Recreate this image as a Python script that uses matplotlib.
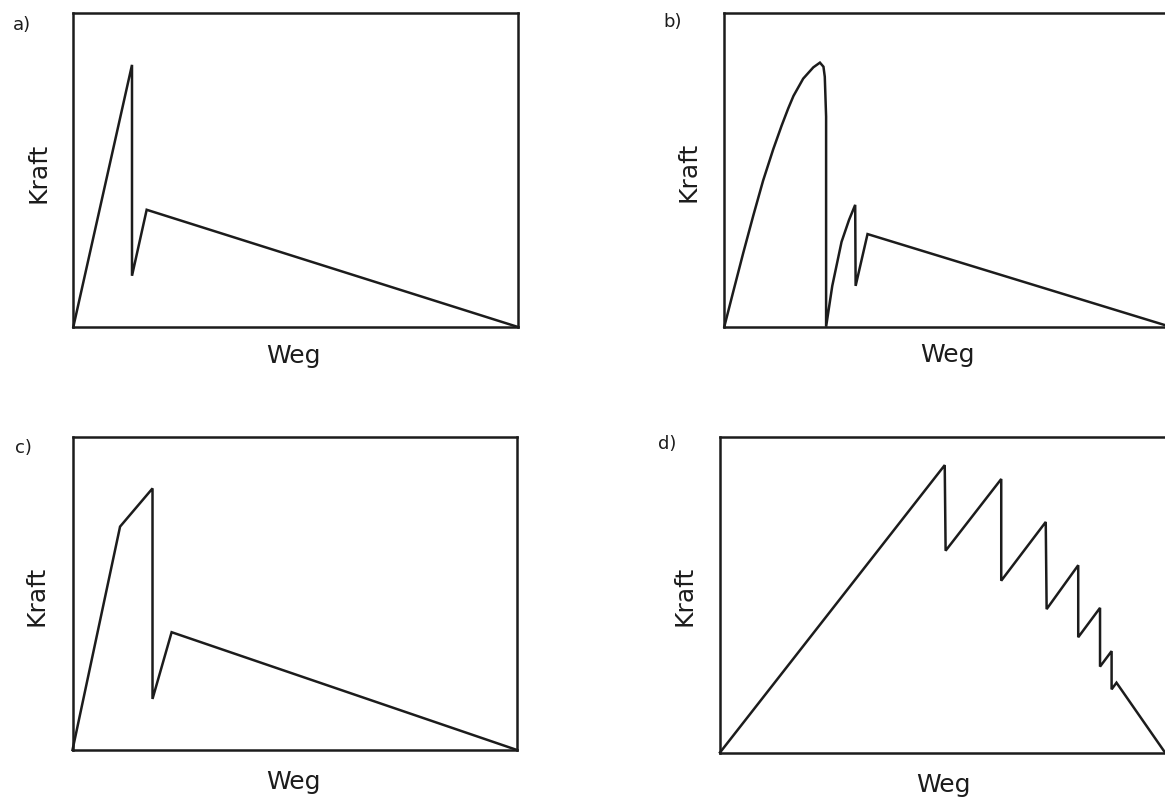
import matplotlib
matplotlib.use("Agg")
import matplotlib.pyplot as plt

# Kraft-Weg curves, both axes normalised to the visible box (0..1)
weg_a = [0.0, 0.132, 0.132, 0.165, 1.0]
kraft_a = [0.0, 0.834, 0.163, 0.373, 0.0]

weg_b = [0.0, 0.020, 0.043, 0.066, 0.088, 0.111, 0.130, 0.145, 0.157, 0.179,
         0.202, 0.217, 0.225, 0.228, 0.231, 0.231, 0.245, 0.266, 0.283, 0.297,
         0.298, 0.325, 1.0]
kraft_b = [0.0, 0.110, 0.235, 0.355, 0.465, 0.565, 0.640, 0.695, 0.735, 0.790,
           0.826, 0.841, 0.828, 0.796, 0.669, 0.0, 0.130, 0.270, 0.340, 0.388,
           0.130, 0.295, 0.005]

weg_c = [0.0, 0.107, 0.180, 0.180, 0.223, 1.0]
kraft_c = [0.0, 0.713, 0.835, 0.163, 0.376, 0.0]

weg_d = [0.0, 0.505, 0.507, 0.632, 0.632, 0.732, 0.734, 0.805, 0.805,
         0.854, 0.854, 0.880, 0.880, 0.891, 1.0]
kraft_d = [0.0, 0.910, 0.639, 0.866, 0.544, 0.730, 0.454, 0.593, 0.365,
           0.458, 0.272, 0.321, 0.200, 0.221, 0.0]

panel_names = ["a)", "b)", "c)", "d)"]
x_label = "Weg"
y_label = "Kraft"

W, H = 1165, 797
INK = "#1c1c1c"
FONT = ["Liberation Sans Narrow", "DejaVu Sans"]

fig = plt.figure(figsize=(W / 100, H / 100), dpi=100)
fig.patch.set_facecolor("white")


def px(x, y):
    """pixel position (from top-left) -> figure fraction"""
    return x / W, 1 - y / H


def make_axes(left, top, right, bottom):
    return fig.add_axes([left / W, 1 - bottom / H, (right - left) / W, (bottom - top) / H])


# box edges in pixels: left, top, right, bottom
boxes = [
    (73.3, 12.7, 518.0, 327.0),
    (724.3, 12.7, 1165.0, 326.7),
    (72.5, 436.7, 517.0, 750.0),
    (720.0, 436.7, 1165.0, 752.5),
]
curves = [(weg_a, kraft_a), (weg_b, kraft_b), (weg_c, kraft_c), (weg_d, kraft_d)]

# label anchors: panel letter (left, centre y), Kraft (centre), Weg (centre x, baseline)
letter_pos = [(13, 25), (663, 22), (15, 448), (658, 444)]
kraft_pos = [(38, 173), (688, 172), (37, 596), (684, 596)]
weg_pos = [(293, 363), (947, 362), (293, 789), (943, 792)]

for i, (box, (xs, ys)) in enumerate(zip(boxes, curves)):
    ax = make_axes(*box)
    ax.plot(xs, ys, color=INK, lw=1.8, solid_joinstyle="miter", clip_on=False)
    ax.set_xlim(0, 1)
    ax.set_ylim(0, 1)
    ax.set_xticks([])
    ax.set_yticks([])
    for s in ax.spines.values():
        s.set_linewidth(1.8)
        s.set_color(INK)
    # right side of b) and d) is cut off by the page edge
    if box[2] >= W:
        ax.spines["right"].set_visible(False)

    fig.text(*px(*letter_pos[i]), panel_names[i], ha="left", va="center",
             fontsize=13, color=INK, family=FONT)
    fig.text(*px(*kraft_pos[i]), y_label, ha="center", va="center", rotation=90,
             fontsize=18, color=INK, family=FONT)
    fig.text(*px(*weg_pos[i]), x_label, ha="center", va="baseline",
             fontsize=18, color=INK, family=FONT)

fig.savefig("out.png", dpi=100, facecolor="white")
